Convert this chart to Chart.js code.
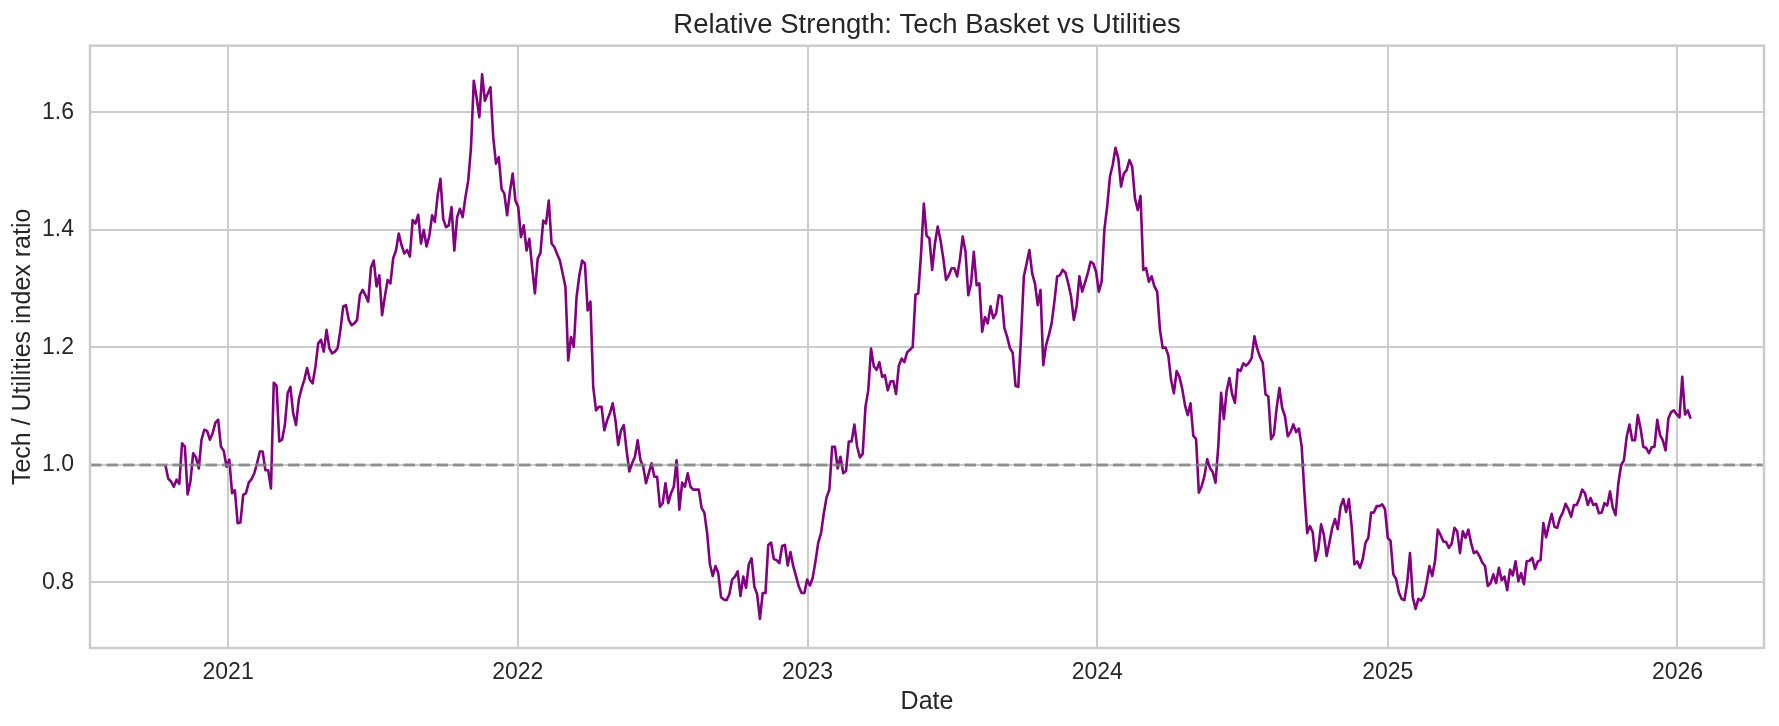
<!DOCTYPE html>
<html>
<head>
<meta charset="utf-8">
<title>Relative Strength: Tech Basket vs Utilities</title>
<script src="https://cdn.jsdelivr.net/npm/chart.js@4.4.1/dist/chart.umd.min.js"></script>
<style>
    html, body { margin: 0; padding: 0; background: #ffffff; }
    #wrap { width: 1779px; height: 726px; }
</style>
</head>
<body>
<div id="wrap"><canvas id="rsChart" width="1779" height="726"></canvas></div>
<script>
// tech / utilities ratio, one value every half week from startDate
const startDate = '2020-10-14';
const stepDays = 3.5;

const ratio = [
    1.000, 0.977, 0.972, 0.963, 0.975, 0.968, 1.037, 1.031, 0.950, 0.972,
    1.020, 1.013, 0.994, 1.043, 1.060, 1.058, 1.043, 1.054, 1.072, 1.077,
    1.031, 1.024, 0.997, 1.009, 0.952, 0.957, 0.901, 0.902, 0.949, 0.952,
    0.970, 0.976, 0.986, 1.003, 1.023, 1.023, 0.991, 0.991, 0.960, 1.140,
    1.135, 1.040, 1.043, 1.068, 1.122, 1.133, 1.088, 1.068, 1.111, 1.130,
    1.145, 1.165, 1.145, 1.139, 1.167, 1.207, 1.213, 1.193, 1.230, 1.199,
    1.190, 1.193, 1.199, 1.230, 1.270, 1.272, 1.247, 1.238, 1.241, 1.247,
    1.289, 1.298, 1.289, 1.278, 1.336, 1.348, 1.304, 1.323, 1.255, 1.287,
    1.315, 1.309, 1.352, 1.365, 1.394, 1.374, 1.360, 1.366, 1.355, 1.417,
    1.411, 1.426, 1.377, 1.400, 1.372, 1.390, 1.425, 1.414, 1.459, 1.487,
    1.419, 1.405, 1.408, 1.439, 1.365, 1.422, 1.436, 1.422, 1.456, 1.484,
    1.540, 1.654, 1.626, 1.592, 1.665, 1.620, 1.632, 1.643, 1.558, 1.513,
    1.524, 1.470, 1.462, 1.425, 1.465, 1.496, 1.450, 1.439, 1.388, 1.408,
    1.365, 1.385, 1.337, 1.292, 1.351, 1.361, 1.416, 1.411, 1.450, 1.377,
    1.371, 1.359, 1.348, 1.326, 1.303, 1.178, 1.218, 1.201, 1.286, 1.323,
    1.348, 1.343, 1.263, 1.278, 1.133, 1.093, 1.099, 1.099, 1.059, 1.076,
    1.088, 1.105, 1.076, 1.034, 1.059, 1.068, 1.025, 0.989, 1.003, 1.014,
    1.042, 1.008, 0.997, 0.969, 0.986, 1.003, 0.980, 0.980, 0.929, 0.935,
    0.969, 0.935, 0.952, 0.963, 1.008, 0.924, 0.970, 0.963, 0.986, 0.963,
    0.958, 0.958, 0.958, 0.927, 0.919, 0.884, 0.831, 0.811, 0.828, 0.816,
    0.775, 0.771, 0.770, 0.780, 0.805, 0.810, 0.819, 0.777, 0.810, 0.791,
    0.831, 0.841, 0.793, 0.780, 0.738, 0.782, 0.782, 0.864, 0.868, 0.840,
    0.838, 0.833, 0.862, 0.864, 0.829, 0.852, 0.828, 0.811, 0.793, 0.782,
    0.782, 0.805, 0.795, 0.808, 0.836, 0.868, 0.884, 0.918, 0.945, 0.958,
    1.031, 1.031, 0.994, 1.014, 0.986, 0.990, 1.040, 1.040, 1.069, 1.031,
    1.013, 1.019, 1.099, 1.127, 1.198, 1.168, 1.162, 1.175, 1.150, 1.153,
    1.127, 1.142, 1.143, 1.121, 1.169, 1.181, 1.175, 1.192, 1.196, 1.201,
    1.290, 1.292, 1.360, 1.445, 1.390, 1.386, 1.332, 1.377, 1.406, 1.383,
    1.352, 1.315, 1.323, 1.335, 1.335, 1.321, 1.350, 1.389, 1.363, 1.289,
    1.309, 1.363, 1.306, 1.309, 1.227, 1.252, 1.241, 1.270, 1.250, 1.258,
    1.289, 1.287, 1.233, 1.218, 1.199, 1.191, 1.135, 1.133, 1.218, 1.321,
    1.343, 1.366, 1.326, 1.309, 1.272, 1.298, 1.170, 1.204, 1.221, 1.241,
    1.278, 1.321, 1.323, 1.332, 1.327, 1.309, 1.287, 1.247, 1.270, 1.321,
    1.295, 1.310, 1.326, 1.346, 1.343, 1.329, 1.295, 1.312, 1.401, 1.440,
    1.491, 1.511, 1.540, 1.522, 1.474, 1.496, 1.502, 1.519, 1.508, 1.454,
    1.434, 1.458, 1.332, 1.335, 1.312, 1.321, 1.304, 1.295, 1.230, 1.199,
    1.200, 1.187, 1.145, 1.122, 1.160, 1.150, 1.130, 1.102, 1.085, 1.105,
    1.050, 1.044, 0.953, 0.964, 0.981, 1.010, 0.995, 0.988, 0.970, 1.032,
    1.123, 1.078, 1.126, 1.148, 1.120, 1.106, 1.163, 1.160, 1.173, 1.169,
    1.174, 1.182, 1.219, 1.198, 1.184, 1.174, 1.120, 1.117, 1.044, 1.052,
    1.097, 1.131, 1.097, 1.083, 1.049, 1.056, 1.069, 1.056, 1.062, 1.032,
    0.953, 0.884, 0.896, 0.885, 0.837, 0.857, 0.899, 0.881, 0.845, 0.868,
    0.893, 0.908, 0.891, 0.929, 0.942, 0.920, 0.942, 0.896, 0.831, 0.836,
    0.825, 0.840, 0.868, 0.876, 0.919, 0.919, 0.930, 0.930, 0.933, 0.925,
    0.876, 0.871, 0.814, 0.806, 0.783, 0.772, 0.770, 0.800, 0.850, 0.775,
    0.755, 0.772, 0.769, 0.777, 0.800, 0.828, 0.811, 0.836, 0.890, 0.881,
    0.870, 0.869, 0.859, 0.866, 0.893, 0.887, 0.850, 0.887, 0.876, 0.890,
    0.867, 0.850, 0.853, 0.845, 0.834, 0.828, 0.794, 0.799, 0.814, 0.799,
    0.825, 0.804, 0.810, 0.787, 0.822, 0.812, 0.836, 0.802, 0.816, 0.797,
    0.836, 0.837, 0.842, 0.823, 0.836, 0.838, 0.901, 0.877, 0.898, 0.917,
    0.895, 0.893, 0.910, 0.919, 0.934, 0.925, 0.912, 0.932, 0.932, 0.943,
    0.958, 0.952, 0.932, 0.944, 0.932, 0.934, 0.918, 0.919, 0.935, 0.931,
    0.955, 0.927, 0.915, 0.969, 1.000, 1.008, 1.048, 1.069, 1.042, 1.042,
    1.085, 1.062, 1.031, 1.029, 1.020, 1.030, 1.031, 1.077, 1.051, 1.042,
    1.025, 1.079, 1.090, 1.093, 1.086, 1.081, 1.150, 1.086, 1.093, 1.079
];

const yearTicks = [2021, 2022, 2023, 2024, 2025, 2026];
const ratioTicks = [0.8, 1.0, 1.2, 1.4, 1.6];
const baseline = 1.0;
const xRange = ['2020-07-11', '2026-04-20'];
const yRange = [0.6885, 1.7137];

const DAY = 86400000;
const t0 = Date.parse(startDate);
const xMin = Date.parse(xRange[0]);
const xMax = Date.parse(xRange[1]);

const ratioPoints = ratio.map((v, i) => ({ x: t0 + i * stepDays * DAY, y: v }));
const baselinePoints = [{ x: xMin, y: baseline }, { x: xMax, y: baseline }];

const textColor = '#262626';
const gridColor = '#cccccc';
const fontFamily = "'Liberation Sans', Arial, Helvetica, sans-serif";

// matplotlib style frame on all four sides
const framePlugin = {
    id: 'frame',
    afterDatasetsDraw(chart) {
        const { ctx, chartArea: a } = chart;
        ctx.save();
        ctx.strokeStyle = gridColor;
        ctx.lineWidth = 2.5;
        ctx.strokeRect(a.left, a.top, a.right - a.left, a.bottom - a.top);
        ctx.restore();
    }
};

const ctx = document.getElementById('rsChart').getContext('2d');

const chart = new Chart(ctx, {
    type: 'line',
    data: {
        datasets: [{
            label: 'Parity',
            data: baselinePoints,
            borderColor: 'rgba(128,128,128,0.8)',
            borderWidth: 3,
            borderDash: [11.5, 5],
            pointRadius: 0,
            order: 0
        }, {
            label: 'Tech / Utilities',
            data: ratioPoints,
            borderColor: '#800080',
            borderWidth: 2.6,
            borderJoinStyle: 'round',
            pointRadius: 0,
            tension: 0,
            order: 1
        }]
    },
    options: {
        responsive: false,
        animation: false,
        devicePixelRatio: 1,
        layout: {
            padding: { left: 8, right: 15, top: 0, bottom: 9 }
        },
        plugins: {
            legend: { display: false },
            tooltip: { enabled: false },
            title: {
                display: true,
                fullSize: false,
                text: 'Relative Strength: Tech Basket vs Utilities',
                color: textColor,
                font: { family: fontFamily, size: 27.5, weight: 'normal', lineHeight: 1.2 },
                padding: { top: 8.5, bottom: 4.2 }
            }
        },
        scales: {
            x: {
                type: 'linear',
                min: xMin,
                max: xMax,
                afterBuildTicks: scale => {
                    scale.ticks = yearTicks.map(y => ({ value: Date.UTC(y, 0, 1) }));
                },
                afterFit: scale => { scale.height = 69; },
                ticks: {
                    autoSkip: false,
                    maxRotation: 0,
                    padding: 11,
                    color: textColor,
                    font: { family: fontFamily, size: 23 },
                    callback: (v, i) => String(yearTicks[i])
                },
                grid: { color: gridColor, lineWidth: 2, drawTicks: false, tickLength: 0 },
                border: { display: false },
                title: {
                    display: true,
                    text: 'Date',
                    color: textColor,
                    padding: 0,
                    font: { family: fontFamily, size: 25, lineHeight: 1.2 }
                }
            },
            y: {
                type: 'linear',
                min: yRange[0],
                max: yRange[1],
                afterBuildTicks: scale => {
                    scale.ticks = ratioTicks.map(v => ({ value: v }));
                },
                afterFit: scale => { scale.width = 82; },
                ticks: {
                    padding: 16,
                    color: textColor,
                    font: { family: fontFamily, size: 23 },
                    callback: v => v.toFixed(1)
                },
                grid: { color: gridColor, lineWidth: 2, drawTicks: false, tickLength: 0 },
                border: { display: false },
                title: {
                    display: true,
                    text: 'Tech / Utilities index ratio',
                    color: textColor,
                    padding: 0,
                    font: { family: fontFamily, size: 25, lineHeight: 1.2 }
                }
            }
        }
    },
    plugins: [framePlugin]
});
</script>
</body>
</html>
